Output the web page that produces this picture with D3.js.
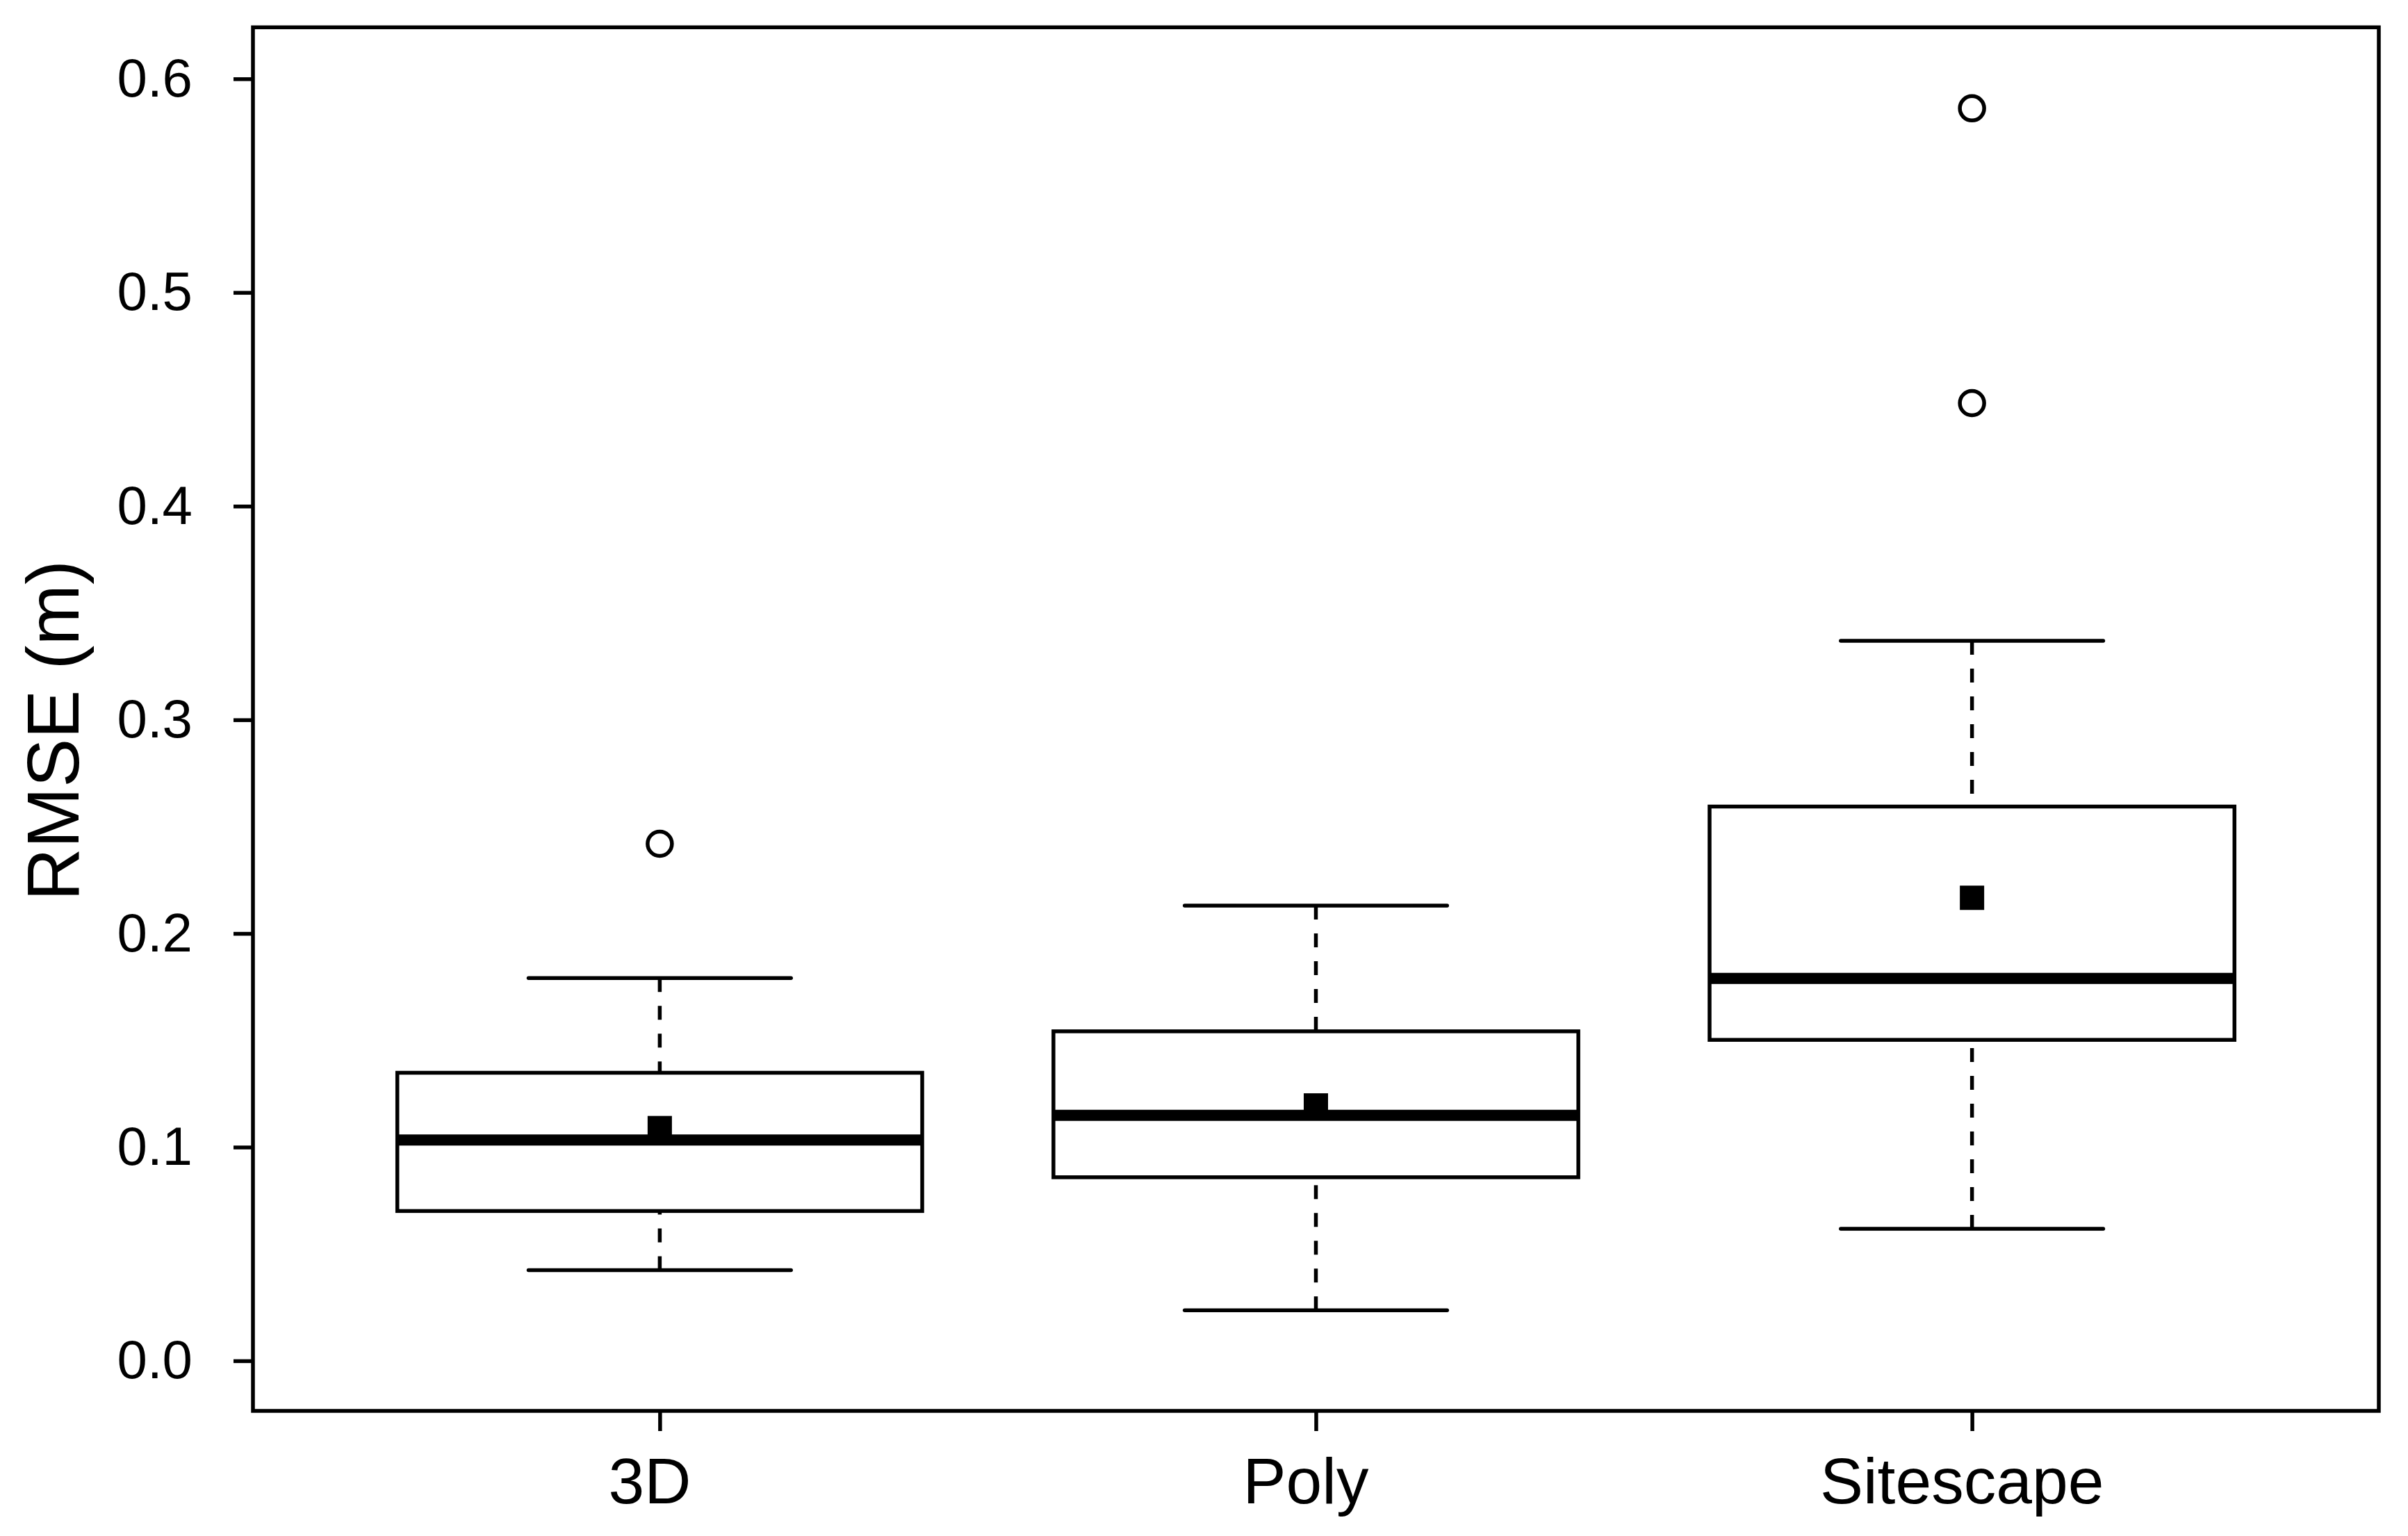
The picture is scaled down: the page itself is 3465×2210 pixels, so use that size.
<!DOCTYPE html>
<html>
<head>
<meta charset="utf-8">
<script src="https://cdn.jsdelivr.net/npm/d3@7"></script>
<style>
  body { margin: 0; background: #fff; }
  svg { display: block; font-family: "Liberation Sans", Arial, sans-serif; }
</style>
</head>
<body>
<div id="vis"></div>
<script>
// box stats (RMSE in m)
const categories = ["3D", "Poly", "Sitescape"];
const whiskerLow = [0.0424, 0.0236, 0.0618];
const q1 = [0.0701, 0.0859, 0.1502];
const medians = [0.1033, 0.1149, 0.1790];
const q3 = [0.1348, 0.1542, 0.2594];
const whiskerHigh = [0.1791, 0.2130, 0.3370];
const means = [0.1089, 0.1195, 0.2167];
const outliers = [[0.2420], [], [0.5862, 0.4482]];
const yTicks = [0.0, 0.1, 0.2, 0.3, 0.4, 0.5, 0.6];

const W = 3465, H = 2210;
const plotL = 364, plotR = 3423, plotT = 39.3, plotB = 2030;
const lw = 5.5;

const svg = d3.select("#vis").append("svg").attr("width", W).attr("height", H);

const x = d3.scalePoint().domain(categories).range([plotL, plotR]).padding(0.62);
const y = d3.scaleLinear().domain([-0.02345, 0.6241]).range([plotB, plotT]);

const boxW = x.step() * 0.8;
const capW = x.step() * 0.4;

const data = categories.map((c, i) => ({
  cat: c, lo: whiskerLow[i], q1: q1[i], med: medians[i], q3: q3[i],
  hi: whiskerHigh[i], mean: means[i], out: outliers[i]
}));

const g = svg.selectAll("g.box").data(data).enter().append("g").attr("class", "box");

// dashed whiskers, drawn from whisker end toward the box
g.append("line")
  .attr("x1", d => x(d.cat)).attr("x2", d => x(d.cat))
  .attr("y1", d => y(d.hi)).attr("y2", d => y(d.q3))
  .attr("stroke", "#000").attr("stroke-width", lw).attr("stroke-dasharray", "20,20");
g.append("line")
  .attr("x1", d => x(d.cat)).attr("x2", d => x(d.cat))
  .attr("y1", d => y(d.lo)).attr("y2", d => y(d.q1))
  .attr("stroke", "#000").attr("stroke-width", lw).attr("stroke-dasharray", "20,20");

// caps
["hi", "lo"].forEach(k => {
  g.append("line")
    .attr("x1", d => x(d.cat) - capW / 2).attr("x2", d => x(d.cat) + capW / 2)
    .attr("y1", d => y(d[k])).attr("y2", d => y(d[k]))
    .attr("stroke", "#000").attr("stroke-width", lw).attr("stroke-linecap", "round");
});

// box
g.append("rect")
  .attr("x", d => x(d.cat) - boxW / 2)
  .attr("y", d => y(d.q3))
  .attr("width", boxW)
  .attr("height", d => y(d.q1) - y(d.q3))
  .attr("fill", "#fff").attr("stroke", "#000").attr("stroke-width", lw);

// mean square
g.append("rect")
  .attr("x", d => x(d.cat) - 17.5)
  .attr("y", d => y(d.mean) - 17.5)
  .attr("width", 35).attr("height", 35)
  .attr("fill", "#000");

// median
g.append("line")
  .attr("x1", d => x(d.cat) - boxW / 2).attr("x2", d => x(d.cat) + boxW / 2)
  .attr("y1", d => y(d.med)).attr("y2", d => y(d.med))
  .attr("stroke", "#000").attr("stroke-width", 16);

// outliers
g.selectAll("circle").data(d => d.out.map(v => ({ cat: d.cat, v }))).enter()
  .append("circle")
  .attr("cx", d => x(d.cat)).attr("cy", d => y(d.v)).attr("r", 17.5)
  .attr("fill", "none").attr("stroke", "#000").attr("stroke-width", lw);

// axes
const yAxis = svg.append("g").attr("transform", `translate(${plotL},0)`)
  .call(d3.axisLeft(y).tickValues(yTicks).tickFormat(d3.format(".1f")).tickSize(28).tickPadding(59));
const xAxis = svg.append("g").attr("transform", `translate(0,${plotB})`)
  .call(d3.axisBottom(x).tickSize(29).tickPadding(38));

[yAxis, xAxis].forEach(a => {
  a.select(".domain").remove();
  a.selectAll(".tick line").attr("stroke", "#000").attr("stroke-width", lw);
  a.selectAll(".tick text").attr("fill", "#000").attr("font-family", "Liberation Sans, Arial, sans-serif");
});
yAxis.selectAll(".tick text").attr("font-size", 78);
xAxis.selectAll(".tick text").attr("font-size", 93).attr("dx", -15);

// frame
svg.append("rect")
  .attr("x", plotL).attr("y", plotT)
  .attr("width", plotR - plotL).attr("height", plotB - plotT)
  .attr("fill", "none").attr("stroke", "#000").attr("stroke-width", lw);

// y title
svg.append("text")
  .attr("transform", "translate(113,1051) rotate(-90)")
  .attr("text-anchor", "middle")
  .attr("font-size", 105)
  .attr("fill", "#000")
  .text("RMSE (m)");
</script>
</body>
</html>
